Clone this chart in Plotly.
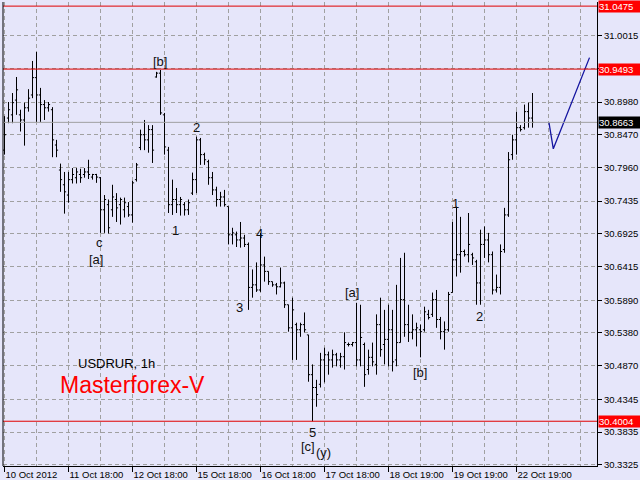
import plotly.graph_objects as go

# ---------------- data ----------------
tick_labels = ["10 Oct 2012", "11 Oct 18:00", "12 Oct 18:00", "15 Oct 18:00", "16 Oct 18:00",
               "17 Oct 18:00", "18 Oct 19:00", "19 Oct 19:00", "22 Oct 19:00"]
tick_bars = [0, 16, 32, 48, 64, 80, 96, 112, 128]

highs = [30.876, 30.898, 30.912, 30.937, 30.886, 30.897, 30.918, 30.962, 30.976, 30.920,
         30.901, 30.898, 30.890, 30.839, 30.802, 30.789, 30.789, 30.795, 30.795, 30.794,
         30.795, 30.808, 30.786, 30.786, 30.781, 30.753, 30.746, 30.769, 30.756, 30.749,
         30.749, 30.742, 30.775, 30.803, 30.855, 30.870, 30.862, 30.862, 30.945, 30.948,
         30.881, 30.828, 30.777, 30.764, 30.750, 30.742, 30.746, 30.788, 30.844, 30.842,
         30.819, 30.808, 30.789, 30.766, 30.758, 30.761, 30.735, 30.702, 30.696, 30.711,
         30.691, 30.679, 30.637, 30.648, 30.694, 30.657, 30.634, 30.618, 30.616, 30.640,
         30.618, 30.582, 30.593, 30.554, 30.554, 30.570, 30.535, 30.489, 30.465, 30.507,
         30.515, 30.509, 30.512, 30.507, 30.507, 30.539, 30.523, 30.524, 30.585, 30.582,
         30.523, 30.512, 30.523, 30.567, 30.593, 30.574, 30.582, 30.574, 30.613, 30.655,
         30.663, 30.582, 30.567, 30.554, 30.551, 30.579, 30.574, 30.601, 30.605, 30.563,
         30.556, 30.602, 30.711, 30.735, 30.719, 30.668, 30.725, 30.663, 30.652, 30.699,
         30.704, 30.694, 30.665, 30.629, 30.676, 30.733, 30.820, 30.847, 30.883, 30.862,
         30.894, 30.897, 30.912]
lows = [30.816, 30.865, 30.865, 30.878, 30.852, 30.830, 30.883, 30.904, 30.867, 30.867,
        30.870, 30.883, 30.812, 30.812, 30.758, 30.724, 30.741, 30.771, 30.771, 30.772,
        30.780, 30.778, 30.777, 30.772, 30.694, 30.694, 30.693, 30.719, 30.711, 30.707,
        30.718, 30.719, 30.710, 30.774, 30.823, 30.823, 30.819, 30.803, 30.936, 30.878,
        30.816, 30.725, 30.722, 30.725, 30.721, 30.721, 30.722, 30.753, 30.756, 30.800,
        30.800, 30.769, 30.753, 30.735, 30.735, 30.735, 30.676, 30.676, 30.672, 30.671,
        30.672, 30.574, 30.593, 30.602, 30.602, 30.618, 30.613, 30.610, 30.598, 30.609,
        30.577, 30.540, 30.496, 30.496, 30.532, 30.539, 30.462, 30.4004, 30.423, 30.453,
        30.461, 30.473, 30.484, 30.486, 30.484, 30.481, 30.517, 30.517, 30.486, 30.486,
        30.454, 30.473, 30.486, 30.473, 30.501, 30.489, 30.486, 30.478, 30.486, 30.523,
        30.532, 30.524, 30.528, 30.517, 30.500, 30.540, 30.559, 30.563, 30.546, 30.528,
        30.512, 30.540, 30.601, 30.626, 30.632, 30.657, 30.648, 30.644, 30.582, 30.582,
        30.655, 30.648, 30.598, 30.601, 30.598, 30.663, 30.719, 30.808, 30.816, 30.852,
        30.855, 30.858, 30.858]
opens = [30.823, 30.873, 30.878, 30.901, 30.878, 30.870, 30.889, 30.909, 30.936, 30.909,
         30.894, 30.889, 30.886, 30.831, 30.792, 30.769, 30.753, 30.777, 30.780, 30.785,
         30.785, 30.789, 30.781, 30.785, 30.780, 30.730, 30.738, 30.730, 30.746, 30.738,
         30.730, 30.735, 30.722, 30.777, 30.827, 30.847, 30.839, 30.855, 30.937, 30.943,
         30.878, 30.823, 30.738, 30.746, 30.738, 30.738, 30.730, 30.756, 30.777, 30.839,
         30.816, 30.805, 30.780, 30.761, 30.746, 30.750, 30.735, 30.691, 30.691, 30.683,
         30.686, 30.676, 30.609, 30.613, 30.605, 30.644, 30.634, 30.618, 30.613, 30.610,
         30.616, 30.582, 30.546, 30.551, 30.543, 30.551, 30.535, 30.473, 30.453, 30.458,
         30.496, 30.504, 30.496, 30.504, 30.496, 30.501, 30.520, 30.520, 30.523, 30.496,
         30.520, 30.481, 30.500, 30.489, 30.551, 30.520, 30.528, 30.543, 30.496, 30.523,
         30.590, 30.551, 30.539, 30.543, 30.543, 30.543, 30.567, 30.567, 30.590, 30.559,
         30.540, 30.543, 30.601, 30.652, 30.660, 30.665, 30.660, 30.660, 30.649, 30.616,
         30.676, 30.683, 30.660, 30.605, 30.609, 30.668, 30.722, 30.816, 30.839, 30.858,
         30.858, 30.883, 30.873]
closes = [30.847, 30.886, 30.897, 30.917, 30.870, 30.889, 30.904, 30.936, 30.909, 30.894,
          30.889, 30.894, 30.839, 30.823, 30.777, 30.758, 30.777, 30.785, 30.789, 30.780,
          30.789, 30.785, 30.785, 30.781, 30.730, 30.746, 30.702, 30.750, 30.733, 30.746,
          30.741, 30.722, 30.772, 30.800, 30.847, 30.839, 30.855, 30.823, 30.943, 30.881,
          30.828, 30.738, 30.746, 30.738, 30.746, 30.730, 30.741, 30.777, 30.839, 30.816,
          30.808, 30.780, 30.761, 30.746, 30.750, 30.738, 30.691, 30.694, 30.683, 30.686,
          30.676, 30.609, 30.613, 30.605, 30.644, 30.634, 30.618, 30.613, 30.610, 30.616,
          30.582, 30.546, 30.574, 30.543, 30.551, 30.543, 30.473, 30.453, 30.442, 30.496,
          30.504, 30.496, 30.504, 30.496, 30.501, 30.523, 30.520, 30.523, 30.496, 30.531,
          30.473, 30.500, 30.493, 30.551, 30.512, 30.528, 30.543, 30.493, 30.523, 30.590,
          30.551, 30.539, 30.543, 30.546, 30.540, 30.571, 30.562, 30.590, 30.559, 30.540,
          30.543, 30.598, 30.652, 30.660, 30.665, 30.660, 30.676, 30.655, 30.616, 30.676,
          30.683, 30.660, 30.605, 30.609, 30.665, 30.722, 30.808, 30.839, 30.858, 30.855,
          30.883, 30.873, 30.8663]

price_ticks = [30.3325, 30.3835, 30.4345, 30.4870, 30.5380, 30.5890, 30.6415, 30.6925,
               30.7435, 30.7960, 30.8470, 30.8980, 30.9500, 31.0015]
price_tick_text = ["30.3325", "30.3835", "30.4345", "30.4870", "30.5380", "30.5890", "30.6415",
                   "30.6925", "30.7435", "30.7960", "30.8470", "30.8980", "", "31.0015"]

red_levels = [31.0475, 30.9493, 30.4004]
bid_level = 30.8663

forecast_bar = [136.1, 137.2, 146.25]
forecast_price = [30.8666, 30.8250, 30.9672]

wave_text = ["c", "[a]", "[b]", "1", "2", "3", "4", "5", "[c]", "(y)", "[a]", "[b]", "1", "2"]
wave_bar = [23.75, 22.9, 38.8, 42.8, 47.9, 58.75, 63.75, 76.9, 75.8, 79.8, 86.75, 103.8, 112.75, 118.75]
wave_price = [30.6787, 30.6522, 30.9610, 30.6978, 30.8577, 30.5774, 30.6934, 30.3828, 30.3615,
              30.3517, 30.6008, 30.4758, 30.7394, 30.5634]

# ---------------- figure ----------------
BG = "#E6E6FA"
GRID = "#A0A0A0"
FONT = "Liberation Sans"

bars = list(range(len(highs)))

fig = go.Figure()
fig.add_trace(go.Ohlc(
    x=bars, open=opens, high=highs, low=lows, close=closes,
    increasing=dict(line=dict(color="black", width=1)),
    decreasing=dict(line=dict(color="black", width=1)),
    tickwidth=0.4, hoverinfo="skip", showlegend=False,
))
fig.add_trace(go.Scatter(
    x=forecast_bar, y=forecast_price, mode="lines",
    line=dict(color="#1414A0", width=1.3), hoverinfo="skip", showlegend=False,
))

shapes = []
for lv in red_levels:
    shapes.append(dict(type="line", xref="paper", x0=0, x1=1, yref="y", y0=lv, y1=lv,
                       line=dict(color="#E00000", width=1)))
shapes.append(dict(type="line", xref="paper", x0=0, x1=1, yref="y", y0=bid_level, y1=bid_level,
                   line=dict(color="#A0A0A0", width=1)))
shapes.append(dict(type="line", xref="paper", x0=0, x1=0, yref="paper", y0=0, y1=1,
                   line=dict(color="black", width=1)))

annotations = []
for lv in red_levels:
    annotations.append(dict(xref="paper", x=1, xanchor="left", xshift=1, yref="y", y=lv,
                            text=f"{lv:.4f}", showarrow=False, bgcolor="#FF0000",
                            font=dict(family=FONT, size=9.5, color="white"),
                            borderpad=0, width=41, align="left"))
annotations.append(dict(xref="paper", x=1, xanchor="left", xshift=1, yref="y", y=bid_level,
                        text=f"{bid_level:.4f}", showarrow=False, bgcolor="black",
                        font=dict(family=FONT, size=9.5, color="white"),
                        borderpad=0, width=41, align="left"))
for t, b, p in zip(wave_text, wave_bar, wave_price):
    annotations.append(dict(x=b, y=p, text=t, showarrow=False,
                            font=dict(family=FONT, size=13, color="#111111")))
annotations.append(dict(x=28, y=30.4902, text="USDRUR, 1h", showarrow=False,
                        font=dict(family=FONT, size=13, color="black")))
annotations.append(dict(x=31.9, y=30.4575, text="Masterforex-V", showarrow=False,
                        font=dict(family=FONT, size=23, color="#FF0000")))

fig.update_layout(
    width=640, height=480, autosize=False,
    margin=dict(l=3, r=43, t=2, b=13.5, pad=0, autoexpand=False),
    paper_bgcolor=BG, plot_bgcolor=BG,
    showlegend=False, shapes=shapes, annotations=annotations,
    font=dict(family=FONT, size=9.5, color="black"),
)
fig.update_xaxes(
    range=[-0.375, 148.125], tickvals=tick_bars, ticktext=tick_labels,
    ticks="outside", ticklen=5, tickcolor="black", ticklabelposition="outside right",
    showline=True, linecolor="black", linewidth=1, mirror=False, automargin=False,
    showgrid=True, gridcolor=GRID, griddash="4px,3px", gridwidth=1,
    minor=dict(dtick=8, tick0=0, showgrid=True, gridcolor=GRID, griddash="4px,3px", ticks=""),
    zeroline=False, rangeslider=dict(visible=False), fixedrange=True,
    tickfont=dict(family=FONT, size=9.5, color="black"),
)
fig.update_yaxes(
    side="right", range=[30.33063, 31.0539], tickvals=price_ticks, ticktext=price_tick_text,
    ticks="outside", ticklen=4, tickcolor="black", automargin=False,
    showline=True, linecolor="black", linewidth=1,
    showgrid=True, gridcolor=GRID, griddash="4px,3px", gridwidth=1,
    zeroline=False, fixedrange=True,
    tickfont=dict(family=FONT, size=9.5, color="black"),
)

fig.write_html(
    "out.html",
    config={"displayModeBar": False},
    post_script="document.body.style.margin='0';document.body.style.background='#E6E6FA';",
)
